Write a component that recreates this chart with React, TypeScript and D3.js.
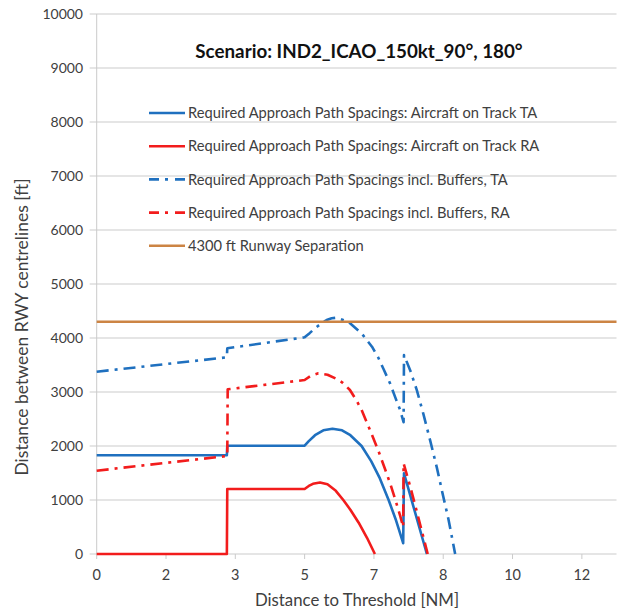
import React from "react";
import * as d3 from "d3";

const W = 622;
const H = 612;

const chartTitle = "Scenario: IND2_ICAO_150kt_90°, 180°";
const xAxisTitle = "Distance to Threshold [NM]";
const yAxisTitle = "Distance between RWY centrelines [ft]";

// Category-style tick positions (every 5/3 NM), labelled rounded to whole NM
const xTicks = [0, 1.667, 3.333, 5, 6.667, 8.333, 10, 11.667];
const yTicks = [0, 1000, 2000, 3000, 4000, 5000, 6000, 7000, 8000, 9000, 10000];

// Required approach path spacing, aircraft on track, TA
const taTrackX = [0, 3.13, 3.14, 5.0, 5.1, 5.25, 5.45, 5.67, 5.9, 6.1, 6.37, 6.6, 6.81, 7.02, 7.2, 7.37, 7.39, 7.94];
const taTrackY = [1830, 1830, 2005, 2005, 2090, 2200, 2290, 2320, 2290, 2200, 2000, 1720, 1400, 1000, 620, 200, 1494, 0];

// Required approach path spacing, aircraft on track, RA
const raTrackX = [0, 3.13, 3.14, 5.0, 5.1, 5.2, 5.37, 5.55, 5.75, 5.93, 6.1, 6.3, 6.5, 6.69];
const raTrackY = [0, 0, 1204, 1204, 1260, 1300, 1325, 1290, 1170, 1000, 820, 580, 300, 0];

// Required approach path spacing incl. buffers, TA
const taBufferX = [0, 3.13, 3.14, 5.0, 5.12, 5.25, 5.4, 5.53, 5.65, 5.77, 6.05, 6.37, 6.62, 6.77, 6.9, 7.06, 7.18, 7.3, 7.38, 7.39, 7.54, 7.7, 7.86, 8.02, 8.18, 8.3, 8.46, 8.62];
const taBufferY = [3376, 3642, 3809, 4013, 4090, 4180, 4270, 4333, 4365, 4375, 4300, 4087, 3839, 3640, 3420, 3150, 2900, 2660, 2440, 3685, 3400, 3030, 2580, 2100, 1600, 1180, 640, 0];

// Required approach path spacing incl. buffers, RA
const raBufferX = [0, 3.14, 3.15, 5.0, 5.15, 5.33, 5.55, 5.75, 5.9, 6.09, 6.25, 6.37, 6.57, 6.77, 6.94, 7.06, 7.18, 7.3, 7.37, 7.38, 7.55, 7.72, 7.96];
const raBufferY = [1543, 1815, 3050, 3222, 3300, 3346, 3320, 3250, 3180, 3037, 2840, 2667, 2300, 1920, 1560, 1300, 1010, 700, 500, 1680, 1220, 720, 0];

// Fixed runway separation
const runwaySepX = [0, 12.5];
const runwaySepY = [4300, 4300];

const legendLabels = [
  "Required Approach Path Spacings: Aircraft on Track TA",
  "Required Approach Path Spacings: Aircraft on Track RA",
  "Required Approach Path Spacings incl. Buffers, TA",
  "Required Approach Path Spacings incl. Buffers, RA",
  "4300 ft Runway Separation",
];

const BLUE = "#1f70bf";
const RED = "#f21c1c";
const ORANGE = "#cc8444";
const DASH_DOT = "12,6,3,6";

const series = [
  { x: taTrackX, y: taTrackY, color: BLUE, dash: undefined as string | undefined },
  { x: raTrackX, y: raTrackY, color: RED, dash: undefined },
  { x: taBufferX, y: taBufferY, color: BLUE, dash: DASH_DOT },
  { x: raBufferX, y: raBufferY, color: RED, dash: DASH_DOT },
  { x: runwaySepX, y: runwaySepY, color: ORANGE, dash: undefined },
];

const FONT = "Lato, 'Open Sans', sans-serif";
const TEXT = "#404040";
const GRID = "#cbcbcb";

export default function App() {
  const x = d3.scaleLinear().domain([0, 12.5]).range([96.7, 616.5]);
  const y = d3.scaleLinear().domain([0, 10000]).range([554, 14]);
  const fmt = d3.format(".0f");

  const line = d3
    .line<[number, number]>()
    .x((d) => x(d[0]))
    .y((d) => y(d[1]))
    .curve(d3.curveLinear);

  const [x0, x1] = x.range();

  return (
    <svg
      width={W}
      height={H}
      style={{ position: "absolute", left: 0, top: 0, background: "#fff" }}
      fontFamily={FONT}
    >
      {/* horizontal gridlines with outside tick marks */}
      {yTicks.map((t) => (
        <g key={`gy${t}`}>
          <line x1={x0 - 7} x2={x1} y1={y(t)} y2={y(t)} stroke={GRID} strokeWidth={1} />
          <text
            x={83}
            y={y(t)}
            dy="0.35em"
            textAnchor="end"
            fontSize={14}
            fill={TEXT}
          >
            {t}
          </text>
        </g>
      ))}
      {/* vertical axis line */}
      <line x1={x0} x2={x0} y1={y(0)} y2={y(10000)} stroke={GRID} strokeWidth={1} />
      {/* x ticks */}
      {xTicks.map((t) => (
        <g key={`gx${t}`}>
          <line x1={x(t)} x2={x(t)} y1={y(0)} y2={y(0) + 5} stroke={GRID} strokeWidth={1} />
          <text x={x(t)} y={575} dy="0.35em" textAnchor="middle" fontSize={14.5} fill={TEXT}>
            {fmt(t)}
          </text>
        </g>
      ))}

      {/* data series */}
      {series.map((s, i) => (
        <path
          key={`s${i}`}
          d={line(s.x.map((v, j) => [v, s.y[j]] as [number, number])) || ""}
          fill="none"
          stroke={s.color}
          strokeWidth={2.6}
          strokeDasharray={s.dash}
          strokeLinejoin="round"
        />
      ))}

      {/* title */}
      <text
        x={359}
        y={51}
        dy="0.35em"
        textAnchor="middle"
        fontSize={18.8}
        fontWeight="bold"
        fill="#111"
      >
        {chartTitle}
      </text>

      {/* legend */}
      {legendLabels.map((label, i) => {
        const ly = 113 + i * 33.2;
        return (
          <g key={`lg${i}`}>
            <line
              x1={149}
              x2={185}
              y1={ly}
              y2={ly}
              stroke={series[i].color}
              strokeWidth={2.6}
              strokeDasharray={series[i].dash ? "10,6,3,7" : undefined}
            />
            <text x={188} y={ly} dy="0.35em" fontSize={14.7} fill={TEXT}>
              {label}
            </text>
          </g>
        );
      })}

      {/* axis titles */}
      <text x={357} y={600} dy="0.35em" textAnchor="middle" fontSize={16.8} fill={TEXT}>
        {xAxisTitle}
      </text>
      <text
        transform={`translate(22, 327) rotate(-90)`}
        dy="0.35em"
        textAnchor="middle"
        fontSize={17.5}
        fill={TEXT}
      >
        {yAxisTitle}
      </text>
    </svg>
  );
}
